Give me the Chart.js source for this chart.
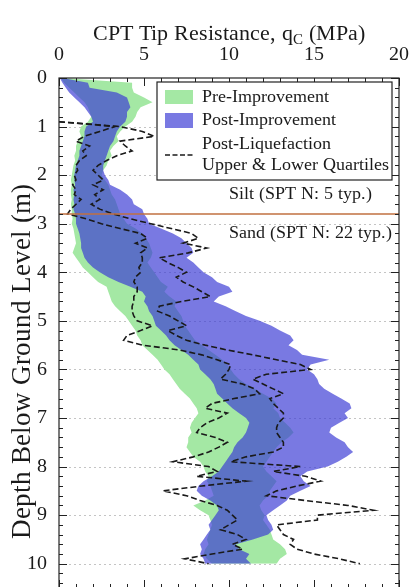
<!DOCTYPE html>
<html>
<head>
<meta charset="utf-8">
<script src="https://cdn.jsdelivr.net/npm/chart.js@4/dist/chart.umd.min.js"></script>
<style>
  @font-face {
    font-family: 'LibSerif';
    src: local('Liberation Serif'), local('LiberationSerif'), local('LiberationSerif-Regular'), local('Liberation Serif Regular');
  }
  html, body { margin: 0; padding: 0; background: #fff; }
  #wrap { width: 409px; height: 587px; overflow: hidden; position: relative; }
  canvas { display: block; }
  #warm { position: absolute; left: -999px; top: 0; font-family: 'LibSerif', 'Liberation Serif', serif; }
</style>
</head>
<body>
<div id="wrap"><canvas id="cptChart" width="409" height="600"></canvas></div>
<span id="warm">Depth 0123456789 (MPa)</span>
<script>
// ===== DATA =====
const depths = [
  0.0, 0.1, 0.2, 0.3, 0.4, 0.5, 0.6, 0.7, 0.8, 0.9,
  1.0, 1.1, 1.2, 1.3, 1.4, 1.5, 1.6, 1.7, 1.8, 1.9,
  2.0, 2.1, 2.2, 2.3, 2.4, 2.5, 2.6, 2.7, 2.8, 2.9,
  3.0, 3.1, 3.2, 3.3, 3.4, 3.5, 3.6, 3.7, 3.8, 3.9,
  4.0, 4.1, 4.2, 4.3, 4.4, 4.5, 4.6, 4.7, 4.8, 4.9,
  5.0, 5.1, 5.2, 5.3, 5.4, 5.5, 5.6, 5.7, 5.8, 5.9,
  6.0, 6.1, 6.2, 6.3, 6.4, 6.5, 6.6, 6.7, 6.8, 6.9,
  7.0, 7.1, 7.2, 7.3, 7.4, 7.5, 7.6, 7.7, 7.8, 7.9,
  8.0, 8.1, 8.2, 8.3, 8.4, 8.5, 8.6, 8.7, 8.8, 8.9,
  9.0, 9.1, 9.2, 9.3, 9.4, 9.5, 9.6, 9.7, 9.8, 9.9, 10.0
];

// Pre-improvement band (MPa)
const preLow = [
  0.1, 0.3, 0.6, 0.9, 1.2, 1.5, 1.7, 1.8, 1.9, 1.7,
  1.3, 1.2, 1.3, 1.1, 1.0, 1.0, 0.9, 0.95, 0.85, 0.8,
  0.75, 0.7, 0.75, 0.7, 0.7, 0.75, 0.7, 0.75, 0.75, 0.8,
  0.75, 0.85, 0.9, 0.95, 1.0, 0.9, 0.8, 1.0, 1.2, 1.4,
  1.7, 2.0, 2.3, 2.8, 2.9, 3.0, 3.1, 3.3, 3.6, 3.9,
  4.1, 4.3, 4.5, 4.6, 4.8, 4.9, 5.2, 5.5, 5.8, 6.0,
  6.2, 6.5, 6.7, 6.9, 7.1, 7.4, 7.7, 7.9, 8.1, 8.2,
  8.0, 7.8, 7.7, 7.8, 7.6, 7.6, 7.5, 7.7, 7.9, 8.3,
  8.5, 8.6, 8.8, 8.7, 8.9, 9.0, 9.1, 8.6, 7.9, 8.3,
  8.8, 8.9, 9.0, 8.9, 8.8, 8.7, 8.8, 8.6, 8.5, 8.7, 9.0
];
const preHigh = [
  0.2, 4.3, 4.3, 4.4, 5.0, 5.5, 4.8, 4.6, 4.5, 4.3,
  3.9, 3.6, 3.4, 3.5, 3.2, 3.0, 3.1, 2.9, 2.8, 2.6,
  2.5, 2.7, 2.9, 3.0, 3.1, 3.3, 3.4, 3.5, 3.6, 3.8,
  4.0, 4.5, 4.9, 5.1, 5.3, 5.4, 5.5, 5.4, 5.2, 5.4,
  5.6, 5.8, 6.0, 6.4, 6.2, 6.5, 6.9, 6.8, 7.0, 7.2,
  7.3, 7.4, 7.6, 7.8, 8.0, 8.4, 8.8, 9.2, 9.6, 9.9,
  10.1, 10.3, 10.6, 11.0, 11.5, 12.0, 12.5, 12.8, 12.6, 12.9,
  13.0, 13.3, 13.6, 13.8, 13.5, 13.1, 12.8, 12.6, 12.4, 12.2,
  12.0, 12.2, 12.5, 12.8, 12.6, 12.4, 12.3, 12.0, 11.8, 11.9,
  12.1, 12.0, 12.2, 12.4, 12.5, 12.6, 13.0, 13.3, 13.4, 13.0, 12.8
];

// Post-improvement band (MPa)
const postLow = [
  0.05, 0.2, 0.4, 0.6, 0.9, 1.2, 1.5, 1.7, 1.9, 2.0,
  1.6, 1.5, 1.5, 1.4, 1.3, 1.2, 1.2, 1.1, 1.0, 0.95,
  0.9, 0.9, 0.95, 0.85, 0.9, 0.85, 0.9, 0.85, 0.95, 1.0,
  1.0, 1.1, 1.2, 1.25, 1.3, 1.3, 1.4, 1.5, 1.7, 2.0,
  2.4, 2.9, 3.5, 4.2, 4.9, 5.1, 5.0, 5.2, 5.3, 5.5,
  5.6, 5.7, 6.0, 6.3, 6.5, 6.8, 7.2, 7.6, 7.9, 8.2,
  8.3, 8.6, 8.9, 9.1, 9.2, 9.3, 9.6, 9.9, 10.2, 10.6,
  11.0, 11.2, 11.1, 11.0, 10.8, 10.5, 10.3, 10.2, 10.0, 9.8,
  9.6, 9.4, 9.0, 8.5, 8.2, 8.1, 8.4, 8.9, 9.3, 9.4,
  9.2, 9.0, 8.8, 8.9, 8.7, 8.5, 8.3, 8.4, 8.3, 8.5, 8.6
];
const postHigh = [
  0.2, 1.7, 1.8, 3.4, 4.0, 4.1, 4.2, 4.0, 4.0, 3.9,
  3.6, 3.4, 3.3, 3.2, 3.0, 2.9, 2.8, 2.7, 2.6, 2.6,
  2.7, 2.9, 3.0, 3.6, 4.0, 4.3, 4.4, 4.9, 5.0, 5.2,
  5.3, 6.0, 6.7, 7.2, 7.5, 7.8, 7.9, 7.5, 7.9, 8.2,
  8.5, 9.0, 9.3, 10.0, 10.2, 9.4, 9.1, 9.8, 10.4, 11.0,
  11.8, 12.5, 13.0, 13.6, 13.8, 13.5, 14.0, 14.3, 15.9, 14.8,
  14.6, 15.0, 15.2, 15.3, 15.6, 16.1, 16.6, 17.1, 17.2, 16.8,
  17.0, 16.5, 16.0, 15.9, 16.3, 16.8, 17.0, 17.3, 16.9, 16.4,
  15.8, 14.6, 14.2, 14.4, 14.8, 14.2, 13.6, 13.4, 13.0, 12.6,
  12.2, 12.3, 12.5, 12.6, 12.3, 11.4, 10.4, 10.6, 11.2, 11.0, 11.3
];

// Post-liquefaction quartiles (MPa), no data above 0.9 m
const liqLower = [
  null, null, null, null, null, null, null, null, null, 0.0,
  3.3, 2.4, 1.5, 1.0, 1.8, 1.4, 1.6, 1.2, 1.0, 1.1,
  0.9, 1.0, 0.8, 1.0, 0.9, 1.3, 1.0, 0.7, 0.5, 1.6,
  2.5, 3.6, 4.8, 5.2, 4.5, 5.2, 4.8, 4.9, 4.9, 4.7,
  4.8, 4.5, 4.4, 4.6, 4.6, 4.4, 4.4, 4.3, 4.3, 4.4,
  4.6, 5.5, 4.8, 4.0, 3.8, 4.9, 7.1, 8.4, 9.3, 10.1,
  10.0, 9.8, 9.5, 10.8, 11.5, 11.8, 10.3, 9.0, 8.6, 9.9,
  9.4, 8.7, 8.3, 8.1, 9.2, 9.9, 9.4, 8.8, 7.9, 6.7,
  8.8, 9.3, 8.1, 11.0, 8.4, 6.1, 7.5, 8.3, 9.3, 9.9,
  10.2, 10.5, 10.0, 9.5, 10.5, 11.0, 10.2, 10.8, 9.0, 7.4, 8.8
];
const liqUpper = [
  null, null, null, null, null, null, null, null, null, 0.0,
  3.6, 4.9, 5.6, 3.6, 3.9, 4.3, 3.4, 2.8, 2.3, 2.0,
  2.3, 2.6, 2.0, 2.6, 2.1, 2.4, 1.9, 2.4, 3.2, 4.2,
  5.4, 6.6, 7.8, 8.2, 7.3, 8.7, 7.6, 5.9, 6.4, 7.0,
  7.5, 6.9, 7.3, 7.9, 8.4, 8.9, 7.2, 5.9, 5.8, 6.5,
  7.0, 7.5, 6.4, 6.9, 7.5, 8.6, 9.9, 11.4, 12.8, 14.2,
  14.8, 12.2, 11.4, 12.0, 12.6, 13.2, 12.4, 12.6, 12.9, 13.2,
  13.2, 12.9, 12.8, 12.8, 13.0, 13.2, 13.2, 12.6, 11.0, 10.1,
  14.2, 12.6, 14.5, 15.4, 14.0, 12.8, 12.2, 14.5, 17.0, 18.5,
  15.2, 15.2, 12.8, 13.0, 13.2, 13.8, 13.6, 14.0, 15.0, 16.5, 17.7
];

const xTickValues = [0, 5, 10, 15, 20];
const yTickValues = [0, 1, 2, 3, 4, 5, 6, 7, 8, 9, 10];
const layerBoundary = 2.8;   // silt / sand interface (m)

// ===== STYLE =====
const SERIF = "LibSerif, 'Liberation Serif', 'Times New Roman', 'DejaVu Serif', serif";
const GREEN = '#a4e8a4';
const PURPLE = 'rgba(58,58,212,0.68)';
const INK = '#1a1a1a';

function toPoints(values) {
  return depths
    .map((d, i) => values[i] == null ? null : { x: values[i], y: d })
    .filter(p => p);
}

const bandStyle = { borderColor: 'transparent', borderWidth: 0, pointRadius: 0, pointHoverRadius: 0 };
const dashStyle = { borderColor: INK, borderWidth: 1.6, borderDash: [6, 3], pointRadius: 0, fill: false };

// ===== DECORATIONS: grid, frame, inward ticks, legend, labels =====
const decorations = {
  id: 'decorations',
  beforeDatasetsDraw(chart) {
    const { ctx, chartArea: a, scales: { y } } = chart;
    ctx.save();
    ctx.strokeStyle = '#c4c4c4';
    ctx.lineWidth = 1;
    ctx.setLineDash([2, 3]);
    yTickValues.filter(v => v > 0).forEach(v => {
      const py = Math.round(y.getPixelForValue(v)) + 0.5;
      ctx.beginPath(); ctx.moveTo(a.left, py); ctx.lineTo(a.right, py); ctx.stroke();
    });
    ctx.restore();
  },
  afterDatasetsDraw(chart) {
    const { ctx, chartArea: a, scales: { y } } = chart;
    const py = y.getPixelForValue(layerBoundary);
    ctx.save();
    ctx.strokeStyle = '#c07040';
    ctx.lineWidth = 1.6;
    ctx.beginPath(); ctx.moveTo(a.left, py); ctx.lineTo(a.right, py); ctx.stroke();
    ctx.restore();
  },
  afterDraw(chart) {
    const { ctx, chartArea: a, scales: { x, y } } = chart;
    ctx.save();

    // frame
    ctx.strokeStyle = '#222';
    ctx.lineWidth = 1.2;
    ctx.strokeRect(a.left, a.top, a.right - a.left, a.bottom - a.top);

    // inward ticks
    ctx.lineWidth = 1;
    ctx.beginPath();
    for (let v = 0; v <= 20; v++) {
      const px = Math.round(x.getPixelForValue(v)) + 0.5;
      const len = v % 5 === 0 ? 8 : 4;
      ctx.moveTo(px, a.top); ctx.lineTo(px, a.top + len);
      ctx.moveTo(px, a.bottom); ctx.lineTo(px, a.bottom - len);
    }
    for (let k = 0; k <= 52; k++) {
      const py = Math.round(y.getPixelForValue(k * 0.2)) + 0.5;
      const len = k % 5 === 0 ? 8 : 4;
      ctx.moveTo(a.left, py); ctx.lineTo(a.left + len, py);
      ctx.moveTo(a.right, py); ctx.lineTo(a.right - len, py);
    }
    ctx.stroke();

    // soil layer labels
    ctx.fillStyle = INK;
    ctx.font = '17.5px ' + SERIF;
    ctx.textAlign = 'left';
    ctx.textBaseline = 'middle';
    ctx.fillText('Silt (SPT N: 5 typ.)', x.getPixelForValue(10), y.getPixelForValue(2.4));
    ctx.fillText('Sand (SPT N: 22 typ.)', x.getPixelForValue(10), y.getPixelForValue(3.2));

    // legend box
    const lx = 157, ly = 82, lw = 235, lh = 98;
    ctx.fillStyle = '#fff';
    ctx.fillRect(lx, ly, lw, lh);
    ctx.strokeStyle = '#222';
    ctx.lineWidth = 1.2;
    ctx.strokeRect(lx, ly, lw, lh);
    ctx.fillStyle = GREEN;
    ctx.fillRect(lx + 8, ly + 8, 28, 14);
    ctx.fillStyle = PURPLE;
    ctx.fillRect(lx + 8, ly + 31, 28, 15);
    ctx.strokeStyle = INK;
    ctx.lineWidth = 1.6;
    ctx.setLineDash([5, 2.5]);
    ctx.beginPath(); ctx.moveTo(lx + 8, ly + 73); ctx.lineTo(lx + 36, ly + 73); ctx.stroke();
    ctx.setLineDash([]);
    ctx.fillStyle = INK;
    ctx.font = '18px ' + SERIF;
    ctx.fillText('Pre-Improvement', lx + 45, ly + 15);
    ctx.fillText('Post-Improvement', lx + 45, ly + 38);
    ctx.fillText('Post-Liquefaction', lx + 45, ly + 62);
    ctx.fillText('Upper & Lower Quartiles', lx + 45, ly + 83);

    // x axis title with subscript
    const mainFont = '22px ' + SERIF, subFont = '15px ' + SERIF;
    const t1 = 'CPT Tip Resistance, q', t2 = 'C', t3 = ' (MPa)';
    ctx.font = mainFont; const w1 = ctx.measureText(t1).width, w3 = ctx.measureText(t3).width;
    ctx.font = subFont; const w2 = ctx.measureText(t2).width;
    let tx = (a.left + a.right) / 2 - (w1 + w2 + w3) / 2;
    ctx.textBaseline = 'alphabetic';
    ctx.font = mainFont; ctx.fillText(t1, tx, 40); tx += w1;
    ctx.font = subFont; ctx.fillText(t2, tx, 44); tx += w2;
    ctx.font = mainFont; ctx.fillText(t3, tx, 40);

    // y axis title
    ctx.translate(30, 361);
    ctx.rotate(-Math.PI / 2);
    ctx.textAlign = 'center';
    ctx.textBaseline = 'alphabetic';
    ctx.font = '26.5px ' + SERIF;
    ctx.fillText('Depth Below Ground Level (m)', 0, 0);
    ctx.restore();
  }
};

function drawChart() {
  new Chart(document.getElementById('cptChart'), {
    type: 'line',
    data: {
      datasets: [
        { label: 'Pre-Improvement', data: toPoints(preLow), fill: '+1', backgroundColor: GREEN, order: 3, ...bandStyle },
        { label: 'Pre-Improvement (upper)', data: toPoints(preHigh), fill: false, order: 3, ...bandStyle },
        { label: 'Post-Improvement', data: toPoints(postLow), fill: '+1', backgroundColor: PURPLE, order: 2, ...bandStyle },
        { label: 'Post-Improvement (upper)', data: toPoints(postHigh), fill: false, order: 2, ...bandStyle },
        { label: 'Post-Liquefaction Lower Quartile', data: toPoints(liqLower), order: 1, ...dashStyle },
        { label: 'Post-Liquefaction Upper Quartile', data: toPoints(liqUpper), order: 1, ...dashStyle },
      ]
    },
    options: {
      responsive: false,
      devicePixelRatio: 1,
      animation: false,
      indexAxis: 'y',
      layout: { padding: { left: 0, right: 0, top: 0, bottom: 12 } },
      plugins: { legend: { display: false }, tooltip: { enabled: false } },
      scales: {
        x: {
          type: 'linear', position: 'top', min: 0, max: 20,
          grid: { display: false, drawTicks: false },
          border: { display: false },
          ticks: { color: INK, font: { size: 20, family: SERIF }, padding: 11, maxRotation: 0 },
          afterBuildTicks: s => { s.ticks = xTickValues.map(v => ({ value: v })); },
          afterFit: s => { s.height = 78; s.paddingLeft = 0; s.paddingRight = 10; }
        },
        y: {
          type: 'linear', reverse: true, min: 0, max: 10.5,
          grid: { display: false, drawTicks: false },
          border: { display: false },
          ticks: { color: INK, font: { size: 20, family: SERIF }, padding: 12 },
          afterBuildTicks: s => { s.ticks = yTickValues.map(v => ({ value: v })); },
          afterFit: s => { s.width = 59; s.paddingTop = 0; s.paddingBottom = 0; }
        }
      }
    },
    plugins: [decorations]
  });
}

const fontReady = document.fonts && document.fonts.load
  ? Promise.all([document.fonts.load('20px LibSerif'), document.fonts.load("20px 'Liberation Serif'")]).catch(() => null)
  : Promise.resolve();
fontReady.then(() => (document.fonts ? document.fonts.ready : null)).then(drawChart, drawChart);
</script>
</body>
</html>
